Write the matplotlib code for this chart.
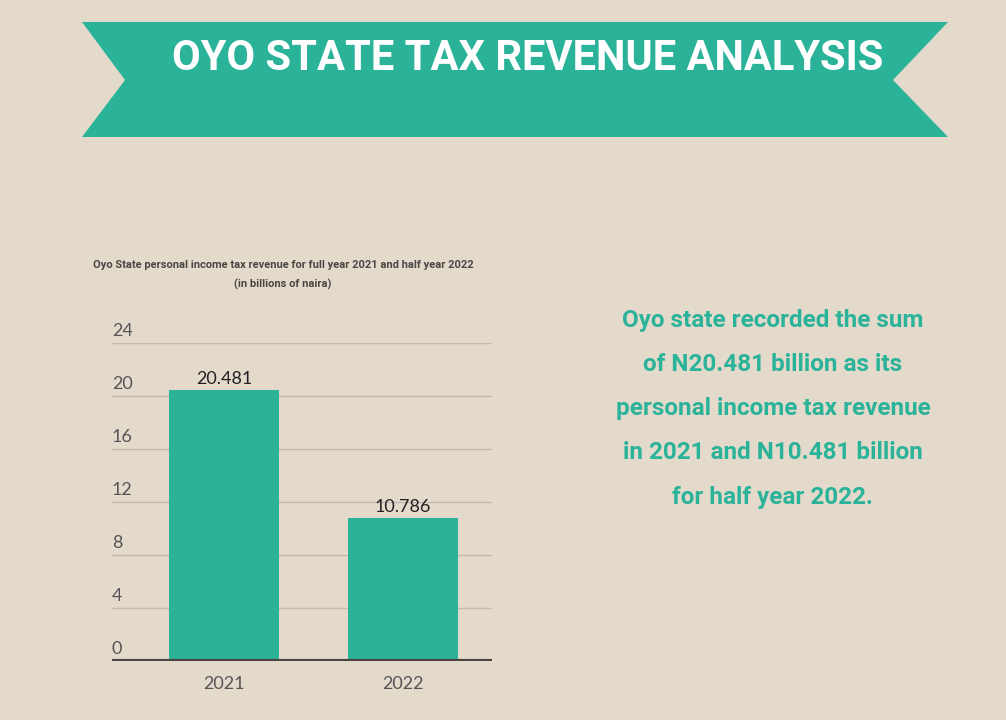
import matplotlib.pyplot as plt
from matplotlib.patches import Polygon
import matplotlib.transforms as mtransforms

years = ['2021', '2022']
revenue = [20.481, 10.786]
yticks = [0, 4, 8, 12, 16, 20, 24]

bg = '#e3dacc'
teal = '#2bb39a'
narrow = ['Roboto', 'DejaVu Sans']
light = ['Lato', 'DejaVu Sans']

fig = plt.figure(figsize=(10.06, 7.2), dpi=100)
fig.patch.set_facecolor(bg)

# ribbon banner (figure pixel coords, y from top)
W, H = 1006, 720
def px(x, y):
    return (x / W, 1 - y / H)
ribbon = Polygon([px(82, 22), px(948, 22), px(893, 80), px(948, 137),
                  px(82, 137), px(125, 80)], closed=True,
                 facecolor=teal, edgecolor='none', transform=fig.transFigure)
fig.patches.append(ribbon)
fig.text(528 / W, 1 - 58 / H, 'OYO STATE TAX REVENUE ANALYSIS', color='white',
         fontsize=30, fontweight='bold', family=narrow, ha='center', va='center')

# chart title
fig.text(283 / W, 1 - 265 / H, 'Oyo State personal income tax revenue for full year 2021 and half year 2022',
         fontsize=8, fontweight='bold', color='#4a4643', family=narrow, ha='center', va='center')
fig.text(283 / W, 1 - 284 / H, '(in billions of naira)',
         fontsize=8, fontweight='bold', color='#4a4643', family=narrow, ha='center', va='center')

# bar chart
ax = fig.add_axes([112 / W, 59 / H, 380 / W, 318 / H])
ax.set_facecolor(bg)
x = range(len(years))
ax.bar(x, revenue, width=0.616, color=teal, zorder=2)
ax.set_xlim(-0.627, 1.501)
ax.set_ylim(0, 24)
for s in ax.spines.values():
    s.set_visible(False)
ax.set_yticks(yticks)
ax.yaxis.grid(True, color='#c3bbb0', lw=1)
ax.set_axisbelow(True)
ax.tick_params(left=False, labelleft=False, bottom=False, labelsize=13, labelcolor='#555555', pad=7)
ax.set_xticks(list(x))
ax.set_xticklabels(years, family=light)
ax.axhline(0, color='#4a4540', lw=3, zorder=3)

trans = mtransforms.blended_transform_factory(ax.transAxes, ax.transData)
for t in yticks:
    ax.annotate(str(t), xy=(0, t), xycoords=trans, xytext=(0, 3), textcoords='offset points',
                ha='left', va='bottom', fontsize=13, color='#555555', family=light)
for xi, v in zip(x, revenue):
    ax.annotate(f'{v:.3f}', xy=(xi, v), xytext=(0, 2), textcoords='offset points',
                ha='center', va='bottom', fontsize=13, color='#222222', family=light)

# side note
note = ['Oyo state recorded the sum', 'of N20.481 billion as its',
        'personal income tax revenue', 'in 2021 and N10.481 billion',
        'for half year 2022.']
for i, line in enumerate(note):
    fig.text(773 / W, 1 - (320 + 44.3 * i) / H, line, color=teal, fontsize=17.5,
             fontweight='bold', family=narrow, ha='center', va='center')

fig.savefig('out.png', dpi=100, facecolor=bg)
